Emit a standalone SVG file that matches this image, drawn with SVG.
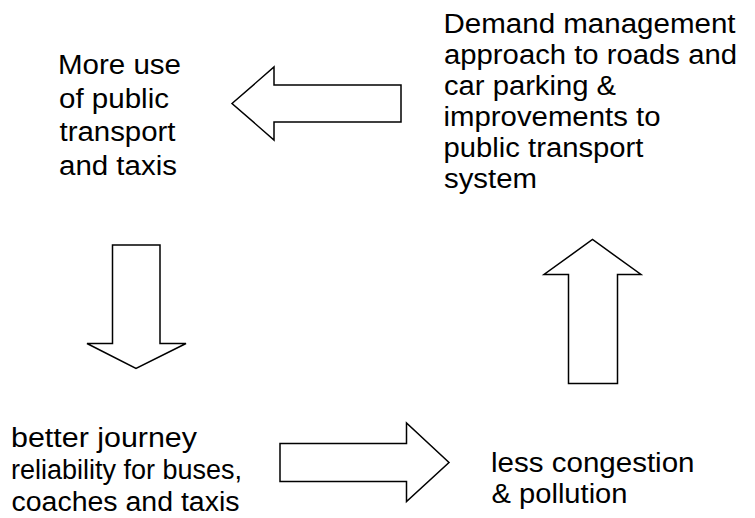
<svg xmlns="http://www.w3.org/2000/svg" width="755" height="518" viewBox="0 0 755 518">
  <style>
    .label { font-family: "Liberation Sans", Arial, sans-serif; font-size: 27px; fill: #000; }
    .block { fill: #fff; stroke: #000; stroke-width: 1.5; stroke-linejoin: miter; }
  </style>
  <rect width="755" height="518" fill="#fff"/>

  <g id="node-public-transport">
    <text class="label">
      <tspan x="58" y="74" textLength="123" lengthAdjust="spacingAndGlyphs">More use</tspan>
      <tspan x="59" y="107.5" textLength="110" lengthAdjust="spacingAndGlyphs">of public</tspan>
      <tspan x="59.5" y="141" textLength="116" lengthAdjust="spacingAndGlyphs">transport</tspan>
      <tspan x="59" y="174.5" textLength="118" lengthAdjust="spacingAndGlyphs">and taxis</tspan>
    </text>
  </g>

  <g id="node-demand-management">
    <text class="label">
      <tspan x="443.5" y="33" textLength="292" lengthAdjust="spacingAndGlyphs">Demand management</tspan>
      <tspan x="444" y="64" textLength="293" lengthAdjust="spacingAndGlyphs">approach to roads and</tspan>
      <tspan x="444" y="95" textLength="172" lengthAdjust="spacingAndGlyphs">car parking &amp;</tspan>
      <tspan x="443.5" y="126" textLength="217" lengthAdjust="spacingAndGlyphs">improvements to</tspan>
      <tspan x="443.5" y="157" textLength="200" lengthAdjust="spacingAndGlyphs">public transport</tspan>
      <tspan x="444" y="188" textLength="93" lengthAdjust="spacingAndGlyphs">system</tspan>
    </text>
  </g>

  <g id="node-journey-reliability">
    <text class="label">
      <tspan x="11" y="447" textLength="186" lengthAdjust="spacingAndGlyphs">better journey</tspan>
      <tspan x="11" y="479" textLength="231" lengthAdjust="spacingAndGlyphs">reliability for buses,</tspan>
      <tspan x="11.5" y="510.5" textLength="228" lengthAdjust="spacingAndGlyphs">coaches and taxis</tspan>
    </text>
  </g>

  <g id="node-less-congestion">
    <text class="label">
      <tspan x="491" y="472" textLength="203.5" lengthAdjust="spacingAndGlyphs">less congestion</tspan>
      <tspan x="491.5" y="503" textLength="136" lengthAdjust="spacingAndGlyphs">&amp; pollution</tspan>
    </text>
  </g>

  <g id="connectors">
    <!-- block arrow: demand management -> public transport use -->
    <polygon class="block" points="232,103.5 274,67 274,85 401,85 401,122 274,122 274,140"/>
    <!-- block arrow: public transport use -> journey reliability -->
    <polygon class="block" points="112.5,245 160,245 160,343.5 186,343.5 136,368.5 87,343.5 112.5,343.5"/>
    <!-- block arrow: journey reliability -> less congestion -->
    <polygon class="block" points="280,443.5 406.5,443.5 406.5,423 449,462.5 406.5,501.5 406.5,481.5 280,481.5"/>
    <!-- block arrow: less congestion -> demand management -->
    <polygon class="block" points="568.5,383.5 617.5,383.5 617.5,274.5 641,274.5 592.5,239.5 544,274.5 568.5,274.5"/>
  </g>
</svg>
